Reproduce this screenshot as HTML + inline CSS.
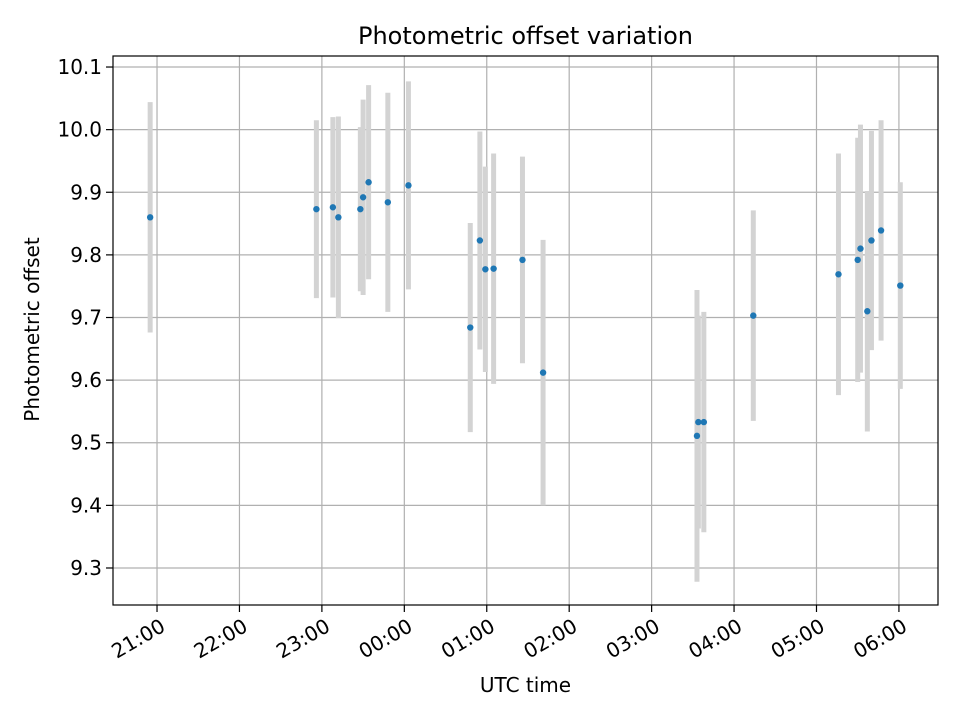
<!DOCTYPE html>
<html><head><meta charset="utf-8"><style>
body{margin:0;background:#fff}
svg text{font-family:"DejaVu Sans","Liberation Sans",sans-serif;fill:#000}
</style></head><body>
<svg id="c" width="960" height="720" viewBox="0 0 960 720"></svg>
<script>
const times=["20:55","22:56","23:08","23:12","23:28","23:30","23:34","23:48","00:03","00:48","00:55","00:59","01:05","01:26","01:41","03:33","03:34","03:38","04:14","05:16","05:30","05:32","05:37","05:40","05:47","06:01"];
const offsets=[9.860,9.873,9.876,9.860,9.873,9.892,9.916,9.884,9.911,9.684,9.823,9.777,9.778,9.792,9.612,9.511,9.533,9.533,9.703,9.769,9.792,9.810,9.710,9.823,9.839,9.751];
const errors=[0.184,0.142,0.144,0.161,0.131,0.156,0.155,0.175,0.166,0.167,0.174,0.164,0.184,0.165,0.212,0.233,0.17,0.176,0.168,0.193,0.195,0.198,0.192,0.175,0.176,0.165];
const yTicks=[9.3,9.4,9.5,9.6,9.7,9.8,9.9,10.0,10.1];
const xTickLabels=["21:00","22:00","23:00","00:00","01:00","02:00","03:00","04:00","05:00","06:00"];

const NS="http://www.w3.org/2000/svg",svg=document.getElementById('c');
const L=113,R=938,T=56,B=605;
const xMin=-0.534,xMax=9.474,yMin=9.2409,yMax=10.1176;
function hrs(s){let [h,m]=s.split(':').map(Number);if(h<12)h+=24;return h-21+m/60;}
const X=h=>L+(h-xMin)/(xMax-xMin)*(R-L);
const Y=v=>B-(v-yMin)/(yMax-yMin)*(B-T);
function mk(t,a,p){const e=document.createElementNS(NS,t);for(const k in a)e.setAttribute(k,a[k]);(p||svg).appendChild(e);return e;}

const grid=mk('g',{});


yTicks.forEach(v=>{
  mk('line',{x1:L,x2:R,y1:Y(v),y2:Y(v),stroke:'#b0b0b0','stroke-width':1.2},grid);
  mk('line',{x1:L-7,x2:L,y1:Y(v),y2:Y(v),stroke:'#000','stroke-width':1.2});
  const t=mk('text',{x:L-11,y:Y(v)+7,'text-anchor':'end','font-size':20});
  t.textContent=v.toFixed(1);
  
  
});
xTickLabels.forEach((s,i)=>{
  const x=X(i);
  mk('line',{x1:x,x2:x,y1:T,y2:B,stroke:'#b0b0b0','stroke-width':1.2},grid);
  mk('line',{x1:x,x2:x,y1:B,y2:B+7,stroke:'#000','stroke-width':1.2});
  const ax=x+2,ay=B+12;
  const t=mk('text',{x:ax,y:ay,'text-anchor':'end','dominant-baseline':'hanging','font-size':20,transform:`rotate(-30 ${ax} ${ay})`});
  t.textContent=s;
  
  
});
times.forEach((s,i)=>{
  const x=X(hrs(s));
  const e=mk('line',{x1:x,x2:x,y1:Y(offsets[i]+errors[i]),y2:Y(offsets[i]-errors[i]),stroke:'#d3d3d3','stroke-width':5});
  
  
});
times.forEach((s,i)=>{
  const p=mk('circle',{cx:X(hrs(s)),cy:Y(offsets[i]),r:3.2,fill:'#1f77b4'});
  
  
});
const fr=mk('rect',{x:L,y:T,width:R-L,height:B-T,fill:'none',stroke:'#000','stroke-width':1.2});


let t=mk('text',{x:(L+R)/2,y:44,'text-anchor':'middle','font-size':24});
t.textContent='Photometric offset variation';


t=mk('text',{x:(L+R)/2,y:692,'text-anchor':'middle','font-size':20});
t.textContent='UTC time';


t=mk('text',{x:39,y:(T+B)/2-1,'text-anchor':'middle','font-size':20,transform:`rotate(-90 39 ${(T+B)/2-1})`});
t.textContent='Photometric offset';


</script>
</body></html>
